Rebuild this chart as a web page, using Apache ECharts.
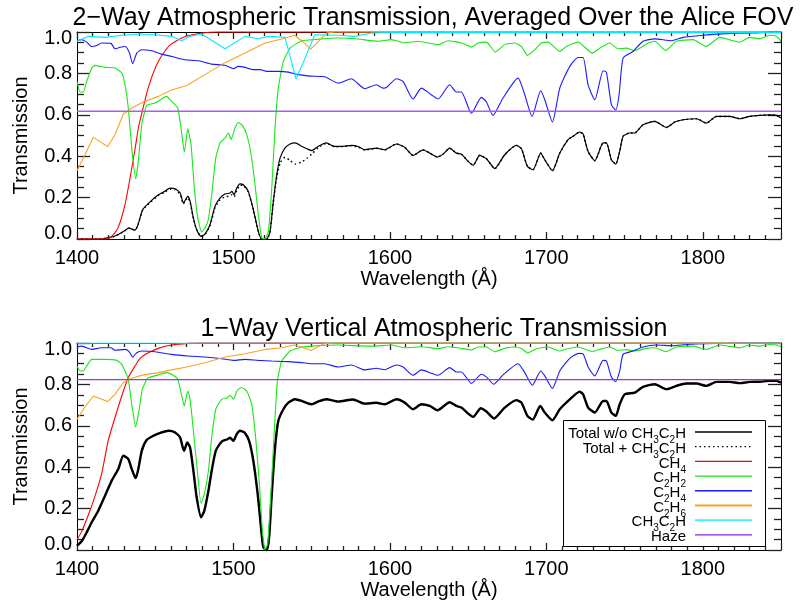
<!DOCTYPE html>
<html>
<head>
<meta charset="utf-8">
<script src="https://cdn.jsdelivr.net/npm/echarts@6/dist/echarts.min.js"></script>
<style>
  html, body { margin: 0; padding: 0; background: #fff; }
  #chart { width: 807px; height: 607px; }
</style>
</head>
<body>
<div id="chart"></div>
<script>
// ---- 2-way transmission, averaged over the Alice FOV: [wavelength (Å), transmission]
const topTotal = [[1400,0],[1416,0],[1418,0.003],[1424,0.013],[1430,0.037],[1433,0.053],[1437,0.043],[1439,0.069],[1442,0.142],[1447,0.182],[1452,0.214],[1456,0.23],[1459.5,0.246],[1462.7,0.243],[1466,0.222],[1468,0.174],[1470.8,0.206],[1472.3,0.182],[1474.4,0.101],[1476.5,0.045],[1479.3,0.013],[1481.8,0.024],[1485,0.069],[1488.2,0.158],[1491.4,0.198],[1494.6,0.217],[1497.8,0.222],[1499,0.23],[1500.4,0.214],[1502.1,0.246],[1504.2,0.266],[1506.3,0.262],[1509.5,0.23],[1512.7,0.142],[1515.9,0.037],[1518,0],[1521.3,0],[1523.4,0.037],[1525.5,0.182],[1527.7,0.311],[1529.8,0.391],[1533,0.44],[1536.2,0.459],[1539.4,0.464],[1543.6,0.448],[1547,0.436],[1550,0.427],[1554.1,0.447],[1559.4,0.464],[1564.7,0.447],[1569,0.447],[1575.4,0.452],[1579.6,0.447],[1583.9,0.431],[1591.4,0.439],[1596.7,0.431],[1604.2,0.459],[1609.5,0.443],[1614.8,0.404],[1621.2,0.431],[1625.5,0.415],[1630.4,0.396],[1634,0.41],[1638.2,0.439],[1642.5,0.415],[1645.7,0.41],[1650,0.375],[1653.2,0.356],[1657.4,0.404],[1661.7,0.388],[1667,0.34],[1673.4,0.407],[1680.9,0.452],[1684.1,0.436],[1687.9,0.351],[1691.5,0.335],[1696.4,0.415],[1699,0.383],[1703.9,0.33],[1708.6,0.415],[1713.9,0.48],[1717.1,0.496],[1721.3,0.517],[1723.5,0.507],[1726.7,0.423],[1731,0.378],[1736.3,0.464],[1738.4,0.464],[1741.6,0.383],[1744.4,0.362],[1746.9,0.423],[1749.1,0.496],[1753.3,0.512],[1756.5,0.512],[1761.8,0.552],[1769.3,0.568],[1776.8,0.539],[1782.1,0.565],[1787.4,0.576],[1796,0.581],[1802.3,0.56],[1808.7,0.592],[1817.2,0.592],[1823.6,0.581],[1830,0.592],[1836.4,0.597],[1842.8,0.6],[1847.1,0.597],[1850,0.584]];
const topTotalPlus = [[1400,0],[1416,0],[1418,0.003],[1424,0.013],[1430,0.037],[1433,0.053],[1437,0.043],[1439,0.069],[1442,0.14],[1447,0.178],[1452,0.21],[1456,0.226],[1459.5,0.24],[1462.7,0.238],[1466,0.215],[1468,0.17],[1470.8,0.2],[1472.3,0.178],[1474.4,0.098],[1476.5,0.044],[1479.3,0.013],[1481.8,0.022],[1485,0.064],[1488.2,0.15],[1491.4,0.19],[1494.6,0.203],[1497.8,0.208],[1499,0.214],[1500.4,0.204],[1502.1,0.235],[1504.2,0.26],[1506.3,0.258],[1509.5,0.226],[1512.7,0.14],[1515.9,0.036],[1518,0],[1521.3,0],[1523.4,0.036],[1525.5,0.178],[1527.7,0.3],[1530,0.37],[1533,0.395],[1536.2,0.38],[1539.5,0.362],[1543.6,0.372],[1547,0.39],[1550,0.41],[1554.1,0.44],[1559.4,0.462],[1564.7,0.446],[1569,0.446],[1575.4,0.45],[1579.6,0.445],[1583.9,0.43],[1591.4,0.438],[1596.7,0.43],[1604.2,0.459],[1609.5,0.443],[1614.8,0.404],[1621.2,0.431],[1625.5,0.415],[1630.4,0.396],[1634,0.41],[1638.2,0.439],[1642.5,0.415],[1645.7,0.41],[1650,0.375],[1653.2,0.356],[1657.4,0.404],[1661.7,0.388],[1667,0.34],[1673.4,0.407],[1680.9,0.452],[1684.1,0.436],[1687.9,0.351],[1691.5,0.335],[1696.4,0.415],[1699,0.383],[1703.9,0.33],[1708.6,0.415],[1713.9,0.48],[1717.1,0.496],[1721.3,0.517],[1723.5,0.507],[1726.7,0.423],[1731,0.378],[1736.3,0.464],[1738.4,0.464],[1741.6,0.383],[1744.4,0.362],[1746.9,0.423],[1749.1,0.496],[1753.3,0.512],[1756.5,0.512],[1761.8,0.552],[1769.3,0.568],[1776.8,0.539],[1782.1,0.565],[1787.4,0.576],[1796,0.581],[1802.3,0.56],[1808.7,0.592],[1817.2,0.592],[1823.6,0.581],[1830,0.592],[1836.4,0.597],[1842.8,0.6],[1847.1,0.597],[1850,0.584]];
const topCH4 = [[1400,0],[1418,0],[1422,0.012],[1426,0.05],[1430.5,0.16],[1433.8,0.29],[1437,0.43],[1439.2,0.535],[1441.5,0.61],[1445.5,0.73],[1450.5,0.835],[1455,0.895],[1460,0.94],[1468,0.975],[1480,0.995],[1490,1],[1850,1]];
const topC2H2 = [[1400,0.761],[1402,0.71],[1404,0.71],[1406.2,0.761],[1409.4,0.826],[1411.5,0.839],[1418,0.829],[1424.3,0.826],[1428.6,0.802],[1430.7,0.745],[1432.8,0.633],[1435,0.439],[1437.5,0.291],[1439.2,0.375],[1441.4,0.552],[1444.5,0.645],[1449.9,0.657],[1457.3,0.689],[1460.5,0.665],[1464.4,0.633],[1466.5,0.536],[1468.6,0.42],[1470.8,0.533],[1472.9,0.455],[1475,0.246],[1477.2,0.101],[1479.7,0.034],[1481.8,0.053],[1483.9,0.093],[1486.1,0.214],[1488.7,0.391],[1491.4,0.464],[1494.6,0.488],[1496.8,0.512],[1498.5,0.48],[1501,0.536],[1503.2,0.563],[1505.7,0.549],[1508.5,0.504],[1511.3,0.407],[1513.8,0.262],[1515.9,0.117],[1518.1,0.005],[1520.2,0],[1522.3,0.037],[1524.5,0.246],[1526.6,0.536],[1528.7,0.729],[1531.9,0.858],[1536.2,0.922],[1543.6,0.958],[1549.6,0.962],[1556.2,0.967],[1566.9,0.971],[1579.6,0.966],[1592.4,0.955],[1601,0.963],[1609.5,0.948],[1618,0.955],[1630.8,0.939],[1637.2,0.958],[1645.7,0.947],[1652.1,0.927],[1656.4,0.947],[1661.7,0.951],[1667.4,0.903],[1673.4,0.939],[1679.8,0.947],[1684.1,0.93],[1687.9,0.887],[1692.6,0.914],[1696.9,0.947],[1701.1,0.951],[1708.6,0.906],[1712.8,0.93],[1720.3,0.951],[1729.4,0.898],[1734.1,0.922],[1740.5,0.947],[1745.8,0.919],[1751.2,0.922],[1756.5,0.91],[1764,0.942],[1769.3,0.955],[1776.3,0.91],[1783.1,0.955],[1793.8,0.963],[1802.3,0.93],[1810.8,0.974],[1823.6,0.951],[1830,0.974],[1836.4,0.967],[1842.8,0.984],[1847.1,0.979],[1850,0.955]];
const topC2H4 = [[1400,0.958],[1403,0.963],[1406.2,0.951],[1409.4,0.93],[1412.6,0.935],[1415.8,0.947],[1421.7,0.945],[1424.3,0.919],[1427.5,0.926],[1430.7,0.93],[1433.3,0.903],[1435.6,0.847],[1438.2,0.898],[1441.4,0.914],[1447.7,0.909],[1454.1,0.893],[1460.5,0.882],[1469,0.866],[1477.6,0.861],[1486.1,0.845],[1494.6,0.839],[1500,0.823],[1503.2,0.834],[1507.4,0.829],[1512.7,0.818],[1517,0.818],[1521.3,0.81],[1528.7,0.81],[1535.1,0.806],[1541.5,0.794],[1549,0.787],[1558.3,0.784],[1566.9,0.753],[1575.4,0.774],[1583.9,0.726],[1591.4,0.745],[1595.6,0.729],[1597.8,0.732],[1604.2,0.774],[1608.4,0.761],[1614.8,0.676],[1620.1,0.729],[1626.5,0.697],[1630.8,0.676],[1638.2,0.745],[1642.5,0.71],[1645.7,0.71],[1652.1,0.608],[1658.5,0.684],[1661.7,0.662],[1665.9,0.597],[1672.3,0.681],[1681.9,0.777],[1686.2,0.697],[1690.9,0.592],[1696.4,0.716],[1699,0.673],[1703.9,0.565],[1708.6,0.729],[1715,0.834],[1720.3,0.877],[1723.5,0.877],[1726.7,0.745],[1731,0.673],[1736.3,0.813],[1738.4,0.806],[1741.6,0.649],[1744.4,0.623],[1746.5,0.697],[1749.1,0.874],[1755.4,0.906],[1761.8,0.955],[1769.3,0.967],[1779.9,0.958],[1787.4,0.974],[1800.2,0.984],[1815.1,0.992],[1832.2,0.995],[1842.8,1],[1850,1]];
const topC2H6 = [[1400,0.33],[1405.1,0.407],[1410.4,0.491],[1419.6,0.447],[1424.3,0.504],[1429.6,0.604],[1435,0.633],[1442.4,0.662],[1452,0.689],[1460.5,0.72],[1470.1,0.742],[1481.8,0.794],[1494.6,0.852],[1507.4,0.898],[1520.2,0.947],[1530.9,0.966],[1539,0.984],[1543.6,0.958],[1549.4,0.917],[1555,0.96],[1559.5,0.995],[1565,1],[1850,1]];
const topCH3C2H = [[1400,0.955],[1403,0.965],[1407.3,0.979],[1418,0.974],[1428.6,0.984],[1439.2,0.99],[1449.9,0.987],[1460.5,0.979],[1466.9,0.958],[1472.3,0.979],[1479.7,0.99],[1494.6,0.919],[1507.4,0.979],[1515.9,0.967],[1522.3,0.979],[1533,0.974],[1540,0.774],[1545.6,0.87],[1552,0.987],[1566.9,0.984],[1577.5,0.979],[1588.2,0.995],[1600,0.997],[1850,0.997]];
const topHaze = [[1400,0.617],[1850,0.617]];

// ---- 1-way vertical transmission
const botTotal = [[1400,0.021],[1403,0.042],[1406.2,0.085],[1409.4,0.134],[1413.6,0.19],[1417.9,0.262],[1422.2,0.335],[1426.4,0.391],[1429.6,0.455],[1432.8,0.439],[1435,0.391],[1437.5,0.347],[1439.2,0.391],[1441.4,0.479],[1444.5,0.531],[1448.8,0.552],[1454.1,0.568],[1458.4,0.576],[1462.7,0.568],[1465.9,0.543],[1468.4,0.479],[1470.5,0.519],[1472.3,0.495],[1474.4,0.383],[1476.5,0.254],[1479.3,0.158],[1481.4,0.19],[1484,0.286],[1486.1,0.383],[1488.7,0.479],[1492.5,0.524],[1496.3,0.535],[1497.8,0.543],[1500,0.527],[1502.1,0.56],[1504.2,0.576],[1507,0.568],[1510,0.527],[1512.7,0.431],[1515.5,0.27],[1517.6,0.11],[1519.1,0.013],[1521.3,0],[1522.8,0.061],[1524.5,0.27],[1526.6,0.495],[1528.7,0.624],[1531.9,0.68],[1535.1,0.712],[1539.4,0.728],[1543.6,0.72],[1547.5,0.708],[1550,0.704],[1554.1,0.717],[1559.4,0.728],[1566.9,0.717],[1576.4,0.727],[1583.9,0.707],[1591.4,0.711],[1596.7,0.704],[1604.2,0.728],[1609.5,0.712],[1614.8,0.68],[1620.1,0.704],[1625.5,0.696],[1630.4,0.675],[1638.2,0.714],[1642.5,0.696],[1645.7,0.688],[1650,0.659],[1653.2,0.643],[1658.1,0.685],[1661.7,0.669],[1666.6,0.635],[1673.4,0.688],[1680.9,0.724],[1684.1,0.712],[1687.9,0.648],[1691.3,0.63],[1696.1,0.696],[1699,0.664],[1703.9,0.627],[1708.6,0.68],[1715,0.728],[1721.3,0.765],[1723.5,0.752],[1726.7,0.688],[1731,0.664],[1736.3,0.72],[1738.4,0.72],[1741.6,0.664],[1744.4,0.648],[1746.9,0.704],[1750.1,0.752],[1756.5,0.76],[1761.8,0.788],[1769.3,0.801],[1776.8,0.777],[1783.1,0.793],[1789.5,0.804],[1796,0.804],[1802.3,0.793],[1808.7,0.812],[1817.2,0.812],[1823.6,0.806],[1830,0.812],[1836.4,0.813],[1842.8,0.817],[1847.1,0.817],[1850,0.809]];
const botTotalPlus = botTotal;
const botCH4 = [[1400,0.05],[1403,0.09],[1407.3,0.17],[1411.5,0.26],[1415.8,0.37],[1420,0.53],[1424.3,0.64],[1428.6,0.744],[1432.8,0.833],[1437.1,0.889],[1440.3,0.926],[1445.6,0.953],[1452,0.974],[1460.5,0.99],[1471.2,0.998],[1480,1],[1850,1]];
const botC2H2 = [[1400,0.889],[1402,0.865],[1404,0.865],[1406.2,0.889],[1409.4,0.921],[1418,0.921],[1425.4,0.916],[1428.6,0.897],[1430.7,0.865],[1432.8,0.825],[1435,0.704],[1437.5,0.595],[1439.6,0.672],[1441.8,0.777],[1445.2,0.83],[1452,0.846],[1457.3,0.857],[1460.5,0.849],[1464.4,0.825],[1466.5,0.76],[1468.6,0.696],[1470.8,0.768],[1472.3,0.728],[1474.4,0.576],[1476.5,0.415],[1479.3,0.225],[1481.4,0.27],[1484,0.383],[1486.1,0.543],[1488.7,0.68],[1492.5,0.728],[1496.3,0.736],[1497.8,0.749],[1500,0.728],[1502.5,0.772],[1505.3,0.785],[1508.5,0.768],[1511.7,0.704],[1514.2,0.543],[1516.6,0.318],[1518.5,0.093],[1520.2,0],[1521.9,0.029],[1523.8,0.254],[1526,0.56],[1528.1,0.817],[1530.9,0.913],[1536.2,0.961],[1543.6,0.981],[1549.6,0.985],[1566.9,0.99],[1588.2,0.985],[1601,0.99],[1609.5,0.977],[1620.1,0.982],[1630.8,0.973],[1637.2,0.982],[1645.7,0.974],[1652.1,0.966],[1656.4,0.981],[1661.7,0.981],[1667,0.958],[1673.4,0.974],[1679.8,0.981],[1684.1,0.974],[1687.9,0.952],[1692.6,0.969],[1696.9,0.977],[1701.1,0.981],[1708.6,0.961],[1712.8,0.971],[1720.3,0.981],[1729.4,0.958],[1734.1,0.969],[1740.5,0.981],[1745.8,0.964],[1751.2,0.968],[1756.5,0.961],[1764,0.974],[1769.3,0.977],[1776.3,0.958],[1783.1,0.981],[1793.8,0.985],[1802.3,0.969],[1810.8,0.99],[1823.6,0.977],[1830,0.99],[1836.4,0.985],[1842.8,0.993],[1847.1,0.99],[1850,0.981]];
const botC2H4 = [[1400,0.981],[1403,0.985],[1409.4,0.969],[1415.8,0.977],[1421.7,0.977],[1424.3,0.965],[1430.7,0.969],[1433.3,0.958],[1435.6,0.932],[1438.2,0.953],[1441.4,0.961],[1449.9,0.958],[1460.5,0.945],[1471.2,0.937],[1481.8,0.932],[1492.5,0.924],[1500,0.916],[1507.4,0.921],[1515.9,0.916],[1524.5,0.913],[1535.1,0.91],[1543.6,0.905],[1549.6,0.9],[1558.3,0.9],[1566.9,0.884],[1575.4,0.894],[1583.9,0.87],[1591.4,0.878],[1596.7,0.871],[1604.2,0.894],[1608.4,0.884],[1614.8,0.844],[1620.1,0.87],[1626.5,0.854],[1630.8,0.844],[1638.2,0.881],[1642.5,0.86],[1645.7,0.86],[1652.1,0.805],[1658.5,0.849],[1661.7,0.836],[1666.3,0.801],[1672.3,0.846],[1681.9,0.9],[1686.2,0.857],[1691.1,0.796],[1696.4,0.865],[1699,0.841],[1703.9,0.781],[1708.6,0.865],[1715,0.926],[1720.9,0.95],[1723.5,0.948],[1726.7,0.884],[1731,0.841],[1736.3,0.916],[1738.4,0.913],[1741.6,0.836],[1744.4,0.813],[1746.9,0.865],[1749.1,0.945],[1755.4,0.961],[1761.8,0.981],[1770.3,0.99],[1780.9,0.987],[1789.5,0.993],[1802.3,0.997],[1815.1,0.998],[1832.2,1],[1850,1]];
const botC2H6 = [[1400,0.632],[1405.1,0.691],[1410.4,0.744],[1419.6,0.717],[1424.3,0.752],[1429.6,0.809],[1435,0.83],[1442.4,0.846],[1452,0.857],[1460.5,0.87],[1470.1,0.884],[1481.8,0.905],[1494.6,0.932],[1507.4,0.948],[1520.2,0.969],[1530.9,0.977],[1539,0.99],[1543.6,0.981],[1549.5,0.964],[1554,0.982],[1558.3,0.997],[1565,1],[1850,1]];
const botCH3C2H = [[1400,0.999],[1850,0.999]];
const botHaze = [[1400,0.823],[1850,0.823]];

// axis ticks
const xTicks = [1400, 1500, 1600, 1700, 1800];
const yTicks = [0.0, 0.2, 0.4, 0.6, 0.8, 1.0];

// legend entries (rich text: n = normal, s = subscript)
const legendLabels = [
  '{n|Total w/o CH}{s|3}{n|C}{s|2}{n|H}',
  '{n|Total + CH}{s|3}{n|C}{s|2}{n|H}',
  '{n|CH}{s|4}',
  '{n|C}{s|2}{n|H}{s|2}',
  '{n|C}{s|2}{n|H}{s|4}',
  '{n|C}{s|2}{n|H}{s|6}',
  '{n|CH}{s|3}{n|C}{s|2}{n|H}',
  '{n|Haze}'
];

const FONT = '"Liberation Sans", Arial, Helvetica, sans-serif';
const COL = {
  total: '#000000', ch4: '#ff0000', c2h2: '#18e818', c2h4: '#1a1aff',
  c2h6: '#ffa020', ch3c2h: '#00eaff', haze: '#9b30f0', hazeTop: '#a85cf0'
};
const X_MAX = 1850;

// each axis gets its own fresh option objects
function tickStyle() { return { color: '#222', width: 1.3 }; }

function xAxisPair(gridIndex) {
  const common = () => ({
    type: 'value', gridIndex, min: xTicks[0], max: X_MAX, interval: xTicks[1] - xTicks[0],
    axisLine: { show: true, onZero: false, lineStyle: { color: '#000', width: 1 } },
    axisTick: { show: true, inside: true, length: 7, lineStyle: tickStyle() },
    minorTick: { show: true, splitNumber: 10, length: 4, lineStyle: tickStyle() },
    splitLine: { show: false }
  });
  return [
    Object.assign(common(), {
      position: 'bottom',
      name: 'Wavelength (Å)', nameLocation: 'middle', nameGap: 30,
      nameTextStyle: { fontFamily: FONT, fontSize: 20, color: '#000' },
      axisLabel: { show: true, margin: 9, fontFamily: FONT, fontSize: 20, color: '#000',
        formatter: v => String(v), showMaxLabel: false }
    }),
    Object.assign(common(), { position: 'top', axisLabel: { show: false } })
  ];
}

function yAxisPair(gridIndex) {
  const common = () => ({
    type: 'value', gridIndex, min: yTicks[0], max: yTicks[yTicks.length - 1],
    interval: yTicks[1] - yTicks[0],
    axisLine: { show: true, onZero: false, lineStyle: { color: '#000', width: 1 } },
    axisTick: { show: true, inside: true, length: 13, lineStyle: tickStyle() },
    minorTick: { show: true, splitNumber: 4, length: 7, lineStyle: tickStyle() },
    splitLine: { show: false }
  });
  return [
    Object.assign(common(), {
      position: 'left',
      name: 'Transmission', nameLocation: 'middle', nameGap: 46,
      nameTextStyle: { fontFamily: FONT, fontSize: 20, color: '#000' },
      axisLabel: { show: true, margin: 5, fontFamily: FONT, fontSize: 20, color: '#000',
        lineHeight: 12,
        formatter: v => v.toFixed(1),
        verticalAlignMinLabel: 'bottom', verticalAlignMaxLabel: 'top' }
    }),
    Object.assign(common(), { position: 'right', axisLabel: { show: false } })
  ];
}

function line(name, data, axisIndex, color, width, dash, smooth) {
  return {
    name, type: 'line', data,
    xAxisIndex: axisIndex, yAxisIndex: axisIndex,
    showSymbol: false, clip: false,
    smooth: smooth || false,
    lineStyle: { color, width, type: dash || 'solid' }
  };
}

function panelSeries(ax, d, totalWidth, hazeColor, hazeWidth) {
  return [
    line('Total w/o CH3C2H', d.total, ax, COL.total, totalWidth, null, 0.2),
    line('Total + CH3C2H', d.totalPlus, ax, COL.total, 1.5, [1.5, 3], 0.2),
    line('CH4', d.ch4, ax, COL.ch4, 1.1, null, 0.2),
    line('C2H2', d.c2h2, ax, COL.c2h2, 1.1, null, 0.15),
    line('C2H4', d.c2h4, ax, COL.c2h4, 1.1, null, 0.2),
    line('C2H6', d.c2h6, ax, COL.c2h6, 1.1),
    line('CH3C2H', d.ch3c2h, ax, COL.ch3c2h, 1.1),
    line('Haze', d.haze, ax, hazeColor, hazeWidth)
  ];
}

// legend box inside the lower panel
const legendRow0 = 432, legendStep = 14.7;
const legendStyles = [
  { color: '#000', dash: null, w: 1.5 },
  { color: '#000', dash: [1.5, 3], w: 1.3 },
  { color: COL.ch4, dash: null, w: 1.3 },
  { color: COL.c2h2, dash: null, w: 1.3 },
  { color: COL.c2h4, dash: null, w: 1.6 },
  { color: COL.c2h6, dash: null, w: 1.8 },
  { color: COL.ch3c2h, dash: null, w: 1.3 },
  { color: '#8a20e0', dash: null, w: 1.3 }
];
const legendGraphics = [{
  type: 'rect', z: 100,
  shape: { x: 563.5, y: 420.5, width: 202, height: 126 },
  style: { fill: '#fff', stroke: '#000', lineWidth: 1 }
}];
legendLabels.forEach((txt, i) => {
  const y = legendRow0 + i * legendStep;
  legendGraphics.push({
    type: 'text', z: 101, x: 686, y: y + 2,
    style: {
      text: txt, align: 'right', verticalAlign: 'middle', fill: '#000',
      fontFamily: FONT, fontSize: 15,
      rich: {
        n: { fontFamily: FONT, fontSize: 15, lineHeight: 15, padding: [0, 0, 4, 0], verticalAlign: 'top', fill: '#000' },
        s: { fontFamily: FONT, fontSize: 10, lineHeight: 10, padding: [9, 0, 0, 0], verticalAlign: 'top', fill: '#000' }
      }
    }
  });
  const st = legendStyles[i];
  const lineStyle = { stroke: st.color, lineWidth: st.w };
  if (st.dash) lineStyle.lineDash = st.dash;
  legendGraphics.push({
    type: 'line', z: 101,
    shape: { x1: 695, y1: y, x2: 752, y2: y },
    style: lineStyle
  });
});

const chart = echarts.init(document.getElementById('chart'));
chart.setOption({
  animation: false,
  title: [
    { text: '2\u2212Way Atmospheric Transmission, Averaged Over the Alice FOV',
      left: 428, top: 1, textAlign: 'center',
      textStyle: { fontFamily: FONT, fontSize: 25, fontWeight: 'normal', color: '#000' } },
    { text: '1\u2212Way Vertical Atmospheric Transmission',
      left: 429, top: 312, textAlign: 'center',
      textStyle: { fontFamily: FONT, fontSize: 25, fontWeight: 'normal', color: '#000' } }
  ],
  grid: [
    { left: 77, top: 32, width: 704, height: 207 },
    { left: 77, top: 343, width: 704, height: 207 }
  ],
  xAxis: [...xAxisPair(0), ...xAxisPair(1)],
  yAxis: [...yAxisPair(0), ...yAxisPair(1)],
  series: [
    ...panelSeries(0, { total: topTotal, totalPlus: topTotalPlus, ch4: topCH4, c2h2: topC2H2,
      c2h4: topC2H4, c2h6: topC2H6, ch3c2h: topCH3C2H, haze: topHaze }, 1.2, COL.hazeTop, 1.6),
    ...panelSeries(2, { total: botTotal, totalPlus: botTotalPlus, ch4: botCH4, c2h2: botC2H2,
      c2h4: botC2H4, c2h6: botC2H6, ch3c2h: botCH3C2H, haze: botHaze }, 2.4, COL.haze, 1.2)
  ],
  graphic: legendGraphics
});
</script>
</body>
</html>
